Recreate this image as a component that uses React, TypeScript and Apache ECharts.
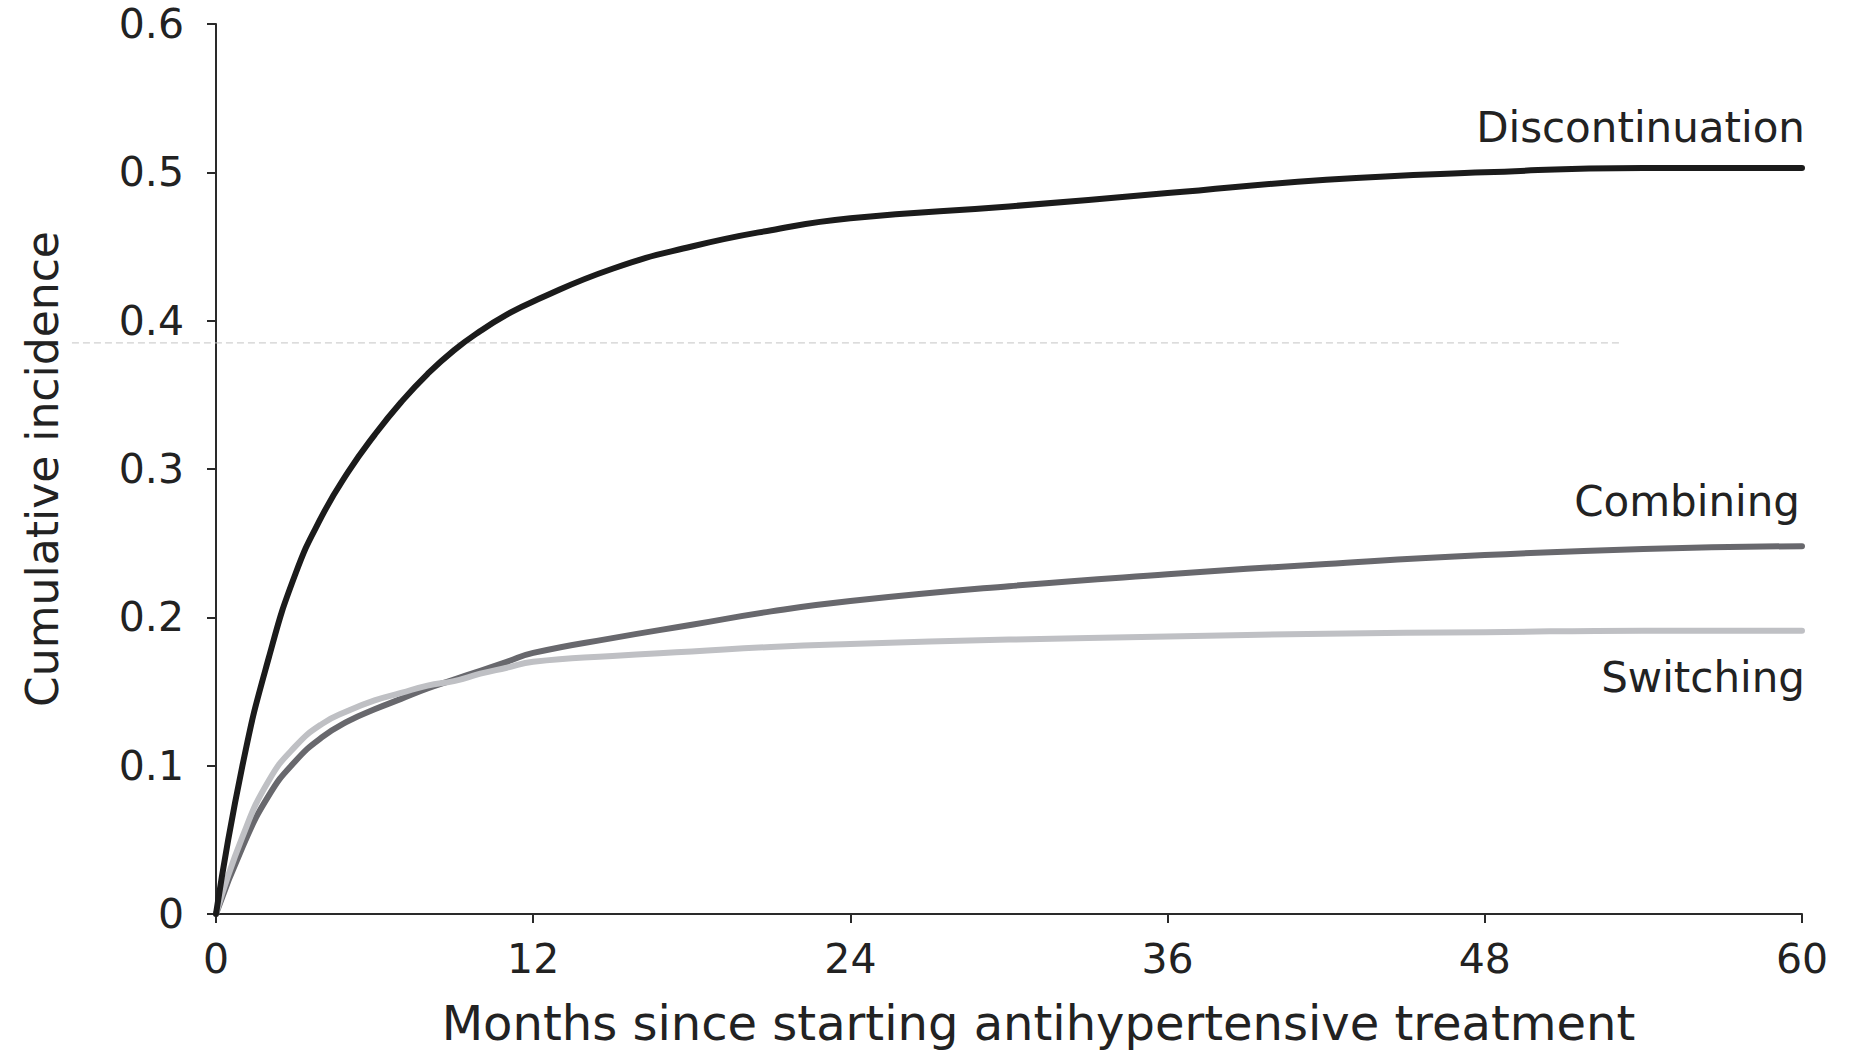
import React, { useEffect, useRef } from "react";
import * as echarts from "echarts";

const months = [0, 1, 2, 3, 4, 5, 6, 7, 8, 9, 10, 11, 12, 15, 18, 21, 24, 30, 36, 42, 48, 54, 60];
const discontinuation = [0, 0.1, 0.173, 0.229, 0.268, 0.298, 0.323, 0.345, 0.364, 0.38, 0.393, 0.404, 0.413, 0.435, 0.45, 0.461, 0.469, 0.477, 0.486, 0.495, 0.5, 0.503, 0.503];
const combining = [0, 0.045, 0.08, 0.103, 0.119, 0.13, 0.138, 0.145, 0.152, 0.158, 0.164, 0.17, 0.176, 0.186, 0.195, 0.204, 0.211, 0.221, 0.229, 0.236, 0.242, 0.246, 0.248];
const switching = [0, 0.052, 0.09, 0.113, 0.128, 0.137, 0.144, 0.149, 0.154, 0.157, 0.162, 0.166, 0.17, 0.174, 0.177, 0.18, 0.182, 0.185, 0.187, 0.189, 0.19, 0.191, 0.191];
const xTicks = [0, 12, 24, 36, 48, 60];
const yTicks = [0, 0.1, 0.2, 0.3, 0.4, 0.5, 0.6];
const seriesNames = ["Discontinuation", "Combining", "Switching"];
// faint dashed scan line (value, x-range in months)
const guideValue = 0.385;
const guideRange = [-5.45, 53.2];

const FONT = "DejaVu Sans";
const TXT = "#222222";

function pairs(ys: number[]) {
  return months.map((m, i) => [m, ys[i]]);
}

export default function App() {
  const ref = useRef<HTMLDivElement>(null);
  useEffect(() => {
    document.body.style.margin = "0";
    const chart = echarts.init(ref.current!, null, { renderer: "svg" });
    const mkSeries = (name: string, data: number[], color: string, off: number[], z: number) => ({
      type: "line",
      name,
      data: pairs(data),
      showSymbol: false,
      symbol: "none",
      smooth: 0.5,
      z,
      lineStyle: { color, width: 6, cap: "round", join: "round" },
      endLabel: {
        show: true,
        formatter: name,
        distance: 0,
        align: "right",
        verticalAlign: "middle",
        offset: off,
        color: TXT,
        fontFamily: FONT,
        fontSize: 42,
      },
    });
    chart.setOption({
      animation: false,
      backgroundColor: "#ffffff",
      grid: { left: 216, right: 48, top: 24, bottom: 137, containLabel: false, outerBoundsMode: "none" },
      xAxis: {
        type: "value",
        min: 0,
        max: 60,
        interval: 12,
        name: "Months since starting antihypertensive treatment",
        nameLocation: "middle",
        nameGap: 85,
        nameTextStyle: { color: TXT, fontFamily: FONT, fontSize: 48, padding: [0, 0, 0, 59] },
        axisLine: { show: true, lineStyle: { color: "#2a2a2a", width: 2 } },
        axisTick: { show: true, inside: false, length: 9, lineStyle: { color: "#2a2a2a", width: 2 } },
        axisLabel: {
          color: TXT,
          fontFamily: FONT,
          fontSize: 41,
          margin: 24,
          customValues: xTicks,
        },
        splitLine: { show: false },
      },
      yAxis: {
        type: "value",
        min: 0,
        max: 0.6,
        interval: 0.1,
        name: "Cumulative incidence",
        nameLocation: "middle",
        nameGap: 152,
        nameTextStyle: { color: TXT, fontFamily: FONT, fontSize: 44 },
        axisLine: { show: true, lineStyle: { color: "#2a2a2a", width: 2 } },
        axisTick: { show: true, inside: false, length: 9, lineStyle: { color: "#2a2a2a", width: 2 } },
        axisLabel: {
          color: TXT,
          fontFamily: FONT,
          fontSize: 41,
          margin: 32,
          padding: [10, 0, 0, 0],
          formatter: (v: number) => (v === 0 ? "0" : v.toFixed(1)),
        },
        splitLine: { show: false },
      },
      series: [
        mkSeries(seriesNames[1], combining, "#68686d", [-2, -45], 2),
        mkSeries(seriesNames[2], switching, "#bfc0c4", [3, 47], 3),
        mkSeries(seriesNames[0], discontinuation, "#1b1b1b", [3, -40], 4),
      ],
    });
    const p0 = chart.convertToPixel({ gridIndex: 0 }, [guideRange[0], guideValue]) as number[];
    const p1 = chart.convertToPixel({ gridIndex: 0 }, [guideRange[1], guideValue]) as number[];
    chart.setOption({
      graphic: [
        {
          type: "line",
          z: 1,
          shape: { x1: p0[0], y1: p0[1], x2: p1[0], y2: p1[1] },
          style: { stroke: "#c4c4c4", lineWidth: 1, lineDash: [7, 4] },
        },
      ],
    });
    return () => chart.dispose();
  }, []);
  return <div ref={ref} style={{ width: 1850, height: 1051 }} />;
}
